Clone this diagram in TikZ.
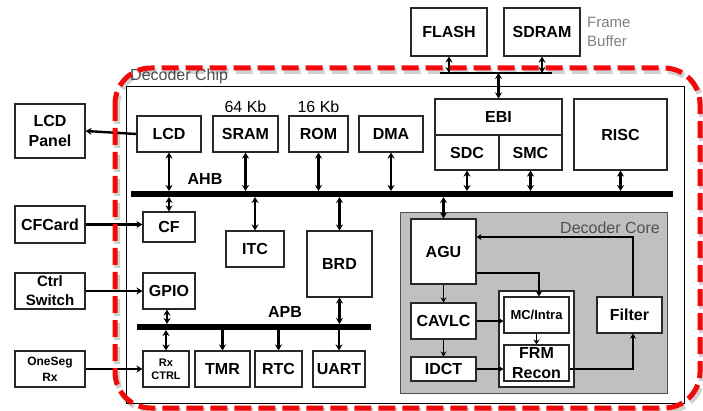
\documentclass[tikz,border=0pt]{standalone}
\usepackage{fontspec}
\setmainfont{Liberation Sans}
\usetikzlibrary{positioning, arrows.meta, calc}
\definecolor{boxgray}{RGB}{40, 40, 40}
\definecolor{coregray}{RGB}{192, 192, 192}
\definecolor{chipred}{RGB}{240, 10, 10}
\definecolor{notegray}{RGB}{80, 80, 80}
\tikzset{
  blk/.style={
    draw=boxgray,
    line width=1.1pt,
    fill=white,
    inner sep=0pt,
    align=center,
    font=\fontsize{16}{20}\selectfont\bfseries
  },
  note/.style={
    inner sep=0pt,
    text=notegray,
    font=\fontsize{16}{18}\selectfont
  },
  buslbl/.style={
    inner sep=0pt,
    font=\fontsize{16}{18}\selectfont\bfseries
  },
  bus/.style={
    line width=6pt
  },
  link/.style={
    -{Stealth[length=6pt,width=7pt]},
    line width=2.4pt
  },
  dlink/.style={
    {Stealth[length=6pt,width=7pt]}-{Stealth[length=6pt,width=7pt]},
    line width=2.4pt
  },
  flow/.style={
    -{Stealth[length=5pt,width=6pt]},
    line width=1.6pt
  },
  chipline/.style={
    draw=chipred,
    line width=5pt,
    dash pattern=on 17pt off 7pt,
    rounded corners=36pt
  },
  chipshadow/.style={
    draw=black,
    opacity=0.18,
    line width=6pt,
    dash pattern=on 17pt off 7pt,
    rounded corners=36pt
  }
}

\begin{document}
\begin{tikzpicture}[x=1pt, y=-1pt]
  \useasboundingbox (0,0) rectangle (703,411);

  % chip outline and core area
  \draw[black, line width=0.9pt] (126,86) rectangle (684,403);
  \node[note, anchor=west] (chiplbl) at (130,76) {Decoder Chip};
  \draw[draw=notegray, line width=1pt, fill=coregray] (400,213) rectangle (667,393);
  \node[note, anchor=east] (corelbl) at (660,228) {Decoder Core};

  % external devices
  \node[blk, minimum width=76pt, minimum height=48pt] (flash) at (449,32) {FLASH};
  \node[blk, minimum width=76pt, minimum height=48pt] (sdram) at (542,32) {SDRAM};
  \node[note, anchor=west, align=left, text=gray, font=\fontsize{15}{19}\selectfont] (fbuf) at (587,32) {Frame\\Buffer};
  \node[blk, minimum width=70pt, minimum height=54pt] (panel) at (50,131) {LCD\\Panel};
  \node[blk, minimum width=70pt, minimum height=37pt] (cfcard) at (50,224.5) {CFCard};
  \node[blk, minimum width=70pt, minimum height=36pt, font=\fontsize{15}{19}\selectfont\bfseries] (ctrlsw) at (50,291) {Ctrl\\Switch};
  \node[blk, minimum width=70pt, minimum height=36pt, font=\fontsize{12}{16}\selectfont\bfseries] (oneseg) at (50,369) {OneSeg\\Rx};

  % AHB masters and slaves
  \node[blk, minimum width=64pt, minimum height=36pt] (lcd) at (169,134) {LCD};
  \node[blk, minimum width=65pt, minimum height=36pt] (sram) at (245.5,134) {SRAM};
  \node[blk, minimum width=59pt, minimum height=36pt] (rom) at (318.5,134) {ROM};
  \node[blk, minimum width=64pt, minimum height=36pt] (dma) at (391,134) {DMA};
  \node[note, above=3pt of sram, text=black] (sramsz) {64 Kb};
  \node[note, above=3pt of rom, text=black] (romsz) {16 Kb};
  \node[blk, minimum width=127pt, minimum height=36pt] (ebi) at (498.5,117) {EBI};
  \node[blk, minimum width=64pt, minimum height=35pt] (sdc) at (467,152.5) {SDC};
  \node[blk, minimum width=63pt, minimum height=35pt] (smc) at (530.5,152.5) {SMC};
  \node[blk, minimum width=93pt, minimum height=71pt] (risc) at (620.5,134.5) {RISC};

  \node[blk, minimum width=52pt, minimum height=30pt] (cf) at (169,227) {CF};
  \node[blk, minimum width=58pt, minimum height=36pt] (itc) at (255,249) {ITC};
  \node[blk, minimum width=65pt, minimum height=66pt] (brd) at (339.5,264) {BRD};
  \node[blk, minimum width=52pt, minimum height=36pt] (gpio) at (169,291) {GPIO};

  % APB peripherals
  \node[blk, minimum width=46pt, minimum height=36pt, font=\fontsize{11}{13}\selectfont\bfseries] (rxctrl) at (166,369) {Rx\\CTRL};
  \node[blk, minimum width=55pt, minimum height=36pt] (tmr) at (222.5,369) {TMR};
  \node[blk, minimum width=47pt, minimum height=36pt] (rtc) at (278.5,369) {RTC};
  \node[blk, minimum width=52pt, minimum height=36pt] (uart) at (339,369) {UART};

  % decoder core blocks
  \node[blk, minimum width=65pt, minimum height=65pt] (agu) at (443.5,251.5) {AGU};
  \node[blk, minimum width=65pt, minimum height=36pt] (cavlc) at (443.5,321) {CAVLC};
  \node[blk, minimum width=65pt, minimum height=24pt] (idct) at (443.5,369) {IDCT};
  \node[blk, minimum width=75pt, minimum height=96pt] (recbox) at (536.5,339) {};
  \node[blk, minimum width=65pt, minimum height=36pt, font=\fontsize{13}{15}\selectfont\bfseries] (mc) at (536.5,315) {MC/Intra};
  \node[blk, minimum width=65pt, minimum height=36pt] (frm) at (536.5,363) {FRM\\Recon};
  \node[blk, minimum width=65pt, minimum height=36pt] (filter) at (629.5,315) {Filter};

  % buses
  \coordinate (ahbL) at (131,194);
  \coordinate (ahbR) at (673,194);
  \coordinate (ahbT) at (131,191);
  \coordinate (ahbB) at (131,197);
  \coordinate (apbL) at (137,327);
  \coordinate (apbR) at (371,327);
  \coordinate (apbT) at (137,324);
  \coordinate (apbB) at (137,330);
  \coordinate (extL) at (440,73);
  \coordinate (extR) at (552,73);
  \draw[bus] (ahbL) -- (ahbR);
  \draw[bus] (apbL) -- (apbR);
  \draw[line width=1.3pt] (extL) -- (extR);
  \node[buslbl] (ahblbl) at (205,179) {AHB};
  \node[buslbl] (apblbl) at (285,312) {APB};

  % external bus links
  \draw[dlink] (flash.south) -- (flash.south |- extL);
  \draw[dlink] (sdram.south) -- (sdram.south |- extL);
  \draw[dlink] (ebi.north) -- (ebi.north |- extL);

  % AHB links
  \foreach \n in {lcd, sram, rom, dma, sdc, smc, risc}
    \draw[dlink] (\n.south) -- (\n.south |- ahbT);
  \foreach \n in {cf, itc, brd, agu}
    \draw[dlink] (\n.north) -- (\n.north |- ahbB);
  \draw[link] (lcd.west) -- (panel.east);
  \draw[link] (cfcard.east) -- (cfcard.east -| cf.west);
  \draw[link] (ctrlsw.east) -- (ctrlsw.east -| gpio.west);
  \draw[link] (oneseg.east) -- (oneseg.east -| rxctrl.west);

  % APB links
  \draw[dlink] ([xshift=-2pt]gpio.south) -- ([xshift=-2pt]gpio.south |- apbT);
  \draw[dlink] (brd.south) -- (brd.south |- apbT);
  \draw[dlink] (rxctrl.north) -- (rxctrl.north |- apbB);
  \foreach \n in {tmr, rtc, uart}
    \draw[link] (\n.north |- apbB) -- (\n.north);

  % decoder core flow
  \draw[flow] (agu.south) -- (cavlc.north);
  \draw[flow] (cavlc.south) -- (idct.north);
  \draw[flow] (cavlc.east) -- (cavlc.east -| mc.west);
  \draw[flow] (idct.east) -- (idct.east -| frm.west);
  \draw[flow] (mc.south) -- (frm.north);
  \draw[flow] ([yshift=-21.5pt]agu.east) -| ([xshift=2.5pt]mc.north);
  \draw[flow] ([yshift=-6pt]frm.east) -| ([xshift=3.5pt]filter.south);
  \draw[flow] ([xshift=3.5pt]filter.north) |- ([yshift=14.5pt]agu.east);

  % chip boundary
  \draw[chipshadow] (117,71) rectangle (702,411);
  \draw[chipline] (115,68) rectangle (700,408);
\end{tikzpicture}
\end{document}
